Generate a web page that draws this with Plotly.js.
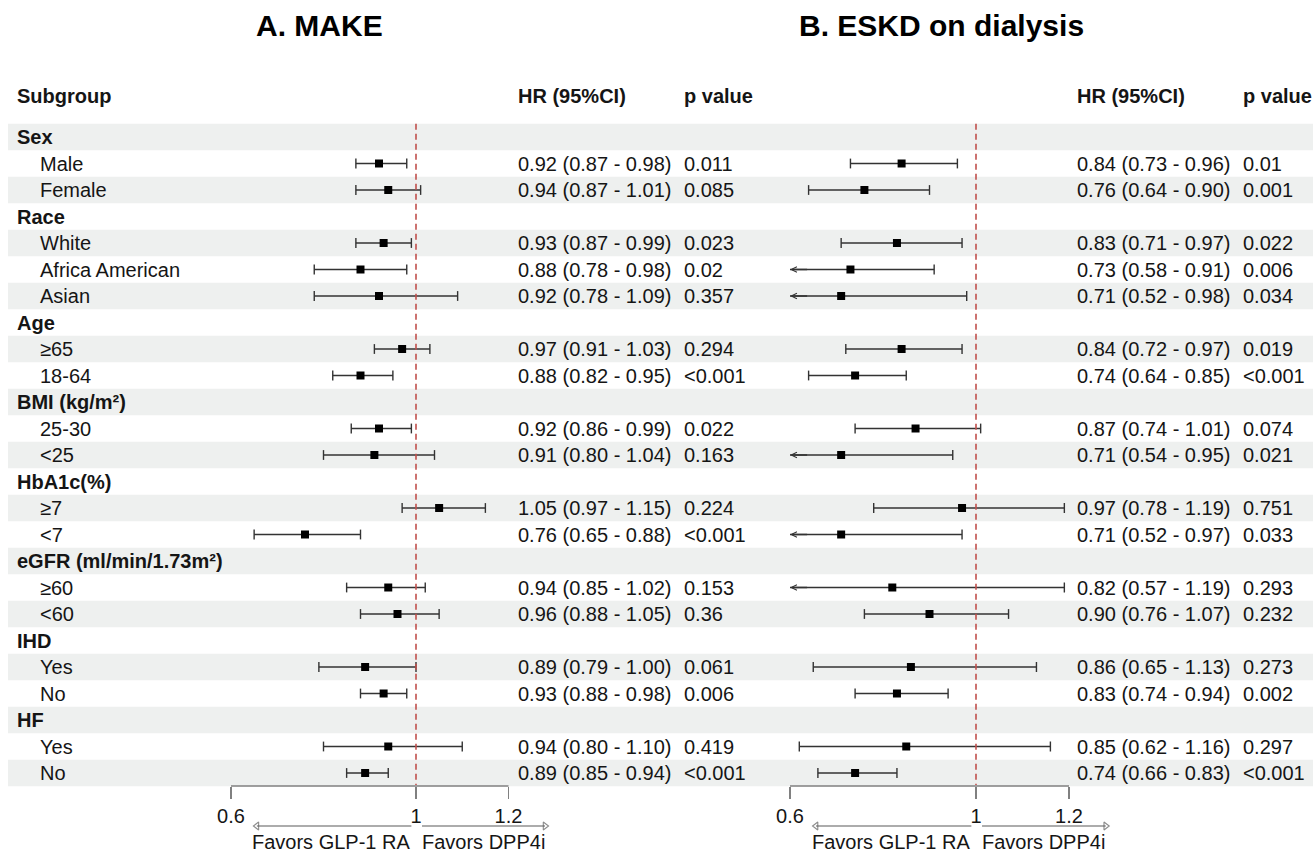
<!DOCTYPE html>
<html>
<head>
<meta charset="utf-8">
<script src="https://cdn.plot.ly/plotly-3.0.1.min.js"></script>
<style>html,body{margin:0;padding:0;background:#fff;}#chart{width:1313px;height:852px;}</style>
</head>
<body>
<div id="chart"></div>
<script>
// ---------- data ----------
const rowLabels = ['Sex','Male','Female','Race','White','Africa American','Asian','Age','≥65','18-64',
  'BMI (kg/m²)','25-30','<25','HbA1c(%)','≥7','<7','eGFR (ml/min/1.73m²)','≥60','<60','IHD','Yes','No','HF','Yes','No'];
const isHeader = [1,0,0,1,0,0,0,1,0,0,1,0,0,1,0,0,1,0,0,1,0,0,1,0,0];

// A. MAKE
const hrA = [null,0.92,0.94,null,0.93,0.88,0.92,null,0.97,0.88,null,0.92,0.91,null,1.05,0.76,null,0.94,0.96,null,0.89,0.93,null,0.94,0.89];
const loA = [null,0.87,0.87,null,0.87,0.78,0.78,null,0.91,0.82,null,0.86,0.80,null,0.97,0.65,null,0.85,0.88,null,0.79,0.88,null,0.80,0.85];
const hiA = [null,0.98,1.01,null,0.99,0.98,1.09,null,1.03,0.95,null,0.99,1.04,null,1.15,0.88,null,1.02,1.05,null,1.00,0.98,null,1.10,0.94];
const pA  = ['','0.011','0.085','','0.023','0.02','0.357','','0.294','<0.001','','0.022','0.163','','0.224','<0.001','','0.153','0.36','','0.061','0.006','','0.419','<0.001'];

// B. ESKD on dialysis
const hrB = [null,0.84,0.76,null,0.83,0.73,0.71,null,0.84,0.74,null,0.87,0.71,null,0.97,0.71,null,0.82,0.90,null,0.86,0.83,null,0.85,0.74];
const loB = [null,0.73,0.64,null,0.71,0.58,0.52,null,0.72,0.64,null,0.74,0.54,null,0.78,0.52,null,0.57,0.76,null,0.65,0.74,null,0.62,0.66];
const hiB = [null,0.96,0.90,null,0.97,0.91,0.98,null,0.97,0.85,null,1.01,0.95,null,1.19,0.97,null,1.19,1.07,null,1.13,0.94,null,1.16,0.83];
const pB  = ['','0.01','0.001','','0.022','0.006','0.034','','0.019','<0.001','','0.074','0.021','','0.751','0.033','','0.293','0.232','','0.273','0.002','','0.297','<0.001'];

const tickVals = [0.6, 1, 1.2];
const tickText = ['0.6', '1', '1.2'];
const axisMin = 0.6, axisMax = 1.2;
const titles = ['A. MAKE', 'B. ESKD on dialysis'];
const favorsText = ['Favors GLP-1 RA', 'Favors DPP4i'];

// ---------- styling / layout helpers ----------
const W = 1313, H = 852;
const FONT = 'Liberation Sans, Arial, sans-serif';
const TXT = '#151515';
const CI = '#333333';
const AX = '#808080';
const rowTop = 137, rowStep = 26.5;            // pixel center of first row, spacing
const pxToRow = p => (p - rowTop) / rowStep;
const px = x => x / W;

const traces = [];
const shapes = [];
const annotations = [];

// row bands
rowLabels.forEach((_, i) => {
  if (i % 2 === 0) {
    shapes.push({type:'rect', xref:'paper', yref:'y', x0:px(8), x1:1, y0:i-0.5, y1:i+0.5,
      fillcolor:'#eef0ef', line:{width:0}, layer:'below'});
  }
});

function panel(hr, lo, hi, pv, xa, cols, titleX) {
  const xref = xa === 'xaxis' ? 'x' : 'x2';
  const lx = [], ly = [], cx = [], cy = [], sx = [], sy = [];
  hr.forEach((h, i) => {
    if (h === null) return;
    const l = Math.max(lo[i], axisMin);
    lx.push(l, hi[i], null); ly.push(i, i, null);
    if (lo[i] >= axisMin) { cx.push(lo[i]); cy.push(i); }
    else {
      annotations.push({xref:xref, yref:'y', x:axisMin, y:i, axref:xref, ayref:'y', ax:axisMin+0.04, ay:i,
        text:'', showarrow:true, arrowhead:5, arrowsize:0.8, arrowwidth:1.4, arrowcolor:CI, standoff:0});
    }
    cx.push(hi[i]); cy.push(i);
    sx.push(h); sy.push(i);
  });
  traces.push({type:'scatter', mode:'lines', xaxis:xref, yaxis:'y', x:lx, y:ly,
    line:{color:CI, width:1.4}, hoverinfo:'skip', showlegend:false});
  traces.push({type:'scatter', mode:'markers', xaxis:xref, yaxis:'y', x:cx, y:cy,
    marker:{symbol:'line-ns', size:7, line:{color:CI, width:1.4}}, hoverinfo:'skip', showlegend:false});
  traces.push({type:'scatter', mode:'markers', xaxis:xref, yaxis:'y', x:sx, y:sy,
    marker:{symbol:'square', size:8, color:'#000'}, hoverinfo:'skip', showlegend:false});

  // favors arrows
  const fy = pxToRow(826);
  traces.push({type:'scatter', mode:'lines+markers', xaxis:xref, yaxis:'y', x:[0.99, 0.656], y:[fy, fy],
    line:{color:'#5a5a5a', width:1.1}, marker:{symbol:'triangle-left-open', size:[0,7], color:'#5a5a5a', line:{width:1.1, color:'#5a5a5a'}},
    hoverinfo:'skip', showlegend:false, cliponaxis:false});
  traces.push({type:'scatter', mode:'lines+markers', xaxis:xref, yaxis:'y', x:[1.013, 1.279], y:[fy, fy],
    line:{color:'#5a5a5a', width:1.1}, marker:{symbol:'triangle-right-open', size:[0,7], color:'#5a5a5a', line:{width:1.1, color:'#5a5a5a'}},
    hoverinfo:'skip', showlegend:false, cliponaxis:false});
  const ty = pxToRow(842);
  annotations.push({xref:xref, yref:'y', x:0.992, y:ty, xanchor:'right', yanchor:'middle', showarrow:false,
    text:favorsText[0], font:{family:FONT, size:20, color:TXT}});
  annotations.push({xref:xref, yref:'y', x:1.008, y:ty, xanchor:'left', yanchor:'middle', showarrow:false,
    text:favorsText[1], font:{family:FONT, size:20, color:TXT}});

  // reference line at 1
  shapes.push({type:'line', xref:xref, yref:'y', x0:1, x1:1, y0:-0.5, y1:24.45,
    line:{color:'#c0504d', width:1.6, dash:'6px,4px'}});
  // axis line
  shapes.push({type:'line', xref:xref, yref:'paper', x0:axisMin, x1:axisMax, y0:1-786/H, y1:1-786/H,
    line:{color:AX, width:1.3}});

  // table text
  const hy = pxToRow(96);
  annotations.push({xref:'paper', yref:'y', x:px(cols[0]-2), y:hy, xanchor:'left', yanchor:'middle', showarrow:false,
    text:'<b>HR (95%CI)</b>', font:{family:FONT, size:20, color:TXT}});
  annotations.push({xref:'paper', yref:'y', x:px(cols[1]-2), y:hy, xanchor:'left', yanchor:'middle', showarrow:false,
    text:'<b>p value</b>', font:{family:FONT, size:20, color:TXT}});
  hr.forEach((h, i) => {
    if (h === null) return;
    annotations.push({xref:'paper', yref:'y', x:px(cols[0]-2), y:i, xanchor:'left', yanchor:'middle', showarrow:false,
      text:h.toFixed(2)+' ('+lo[i].toFixed(2)+' - '+hi[i].toFixed(2)+')', font:{family:FONT, size:20, color:TXT}});
    annotations.push({xref:'paper', yref:'y', x:px(cols[1]-2), y:i, xanchor:'left', yanchor:'middle', showarrow:false,
      text:pv[i], font:{family:FONT, size:20, color:TXT}});
  });
  annotations.push({xref:'paper', yref:'paper', x:px(titleX), y:1-25/H, xanchor:'center', yanchor:'middle', showarrow:false,
    text:'<b>'+titles[xa === 'xaxis' ? 0 : 1]+'</b>', font:{family:FONT, size:30, color:'#000'}});
}

panel(hrA, loA, hiA, pA, 'xaxis', [518, 684], 319.5);
panel(hrB, loB, hiB, pB, 'xaxis2', [1077, 1243], 941);

// subgroup labels
annotations.push({xref:'paper', yref:'y', x:px(15), y:pxToRow(96), xanchor:'left', yanchor:'middle', showarrow:false,
  text:'<b>Subgroup</b>', font:{family:FONT, size:20, color:TXT}});
rowLabels.forEach((lab, i) => {
  annotations.push({xref:'paper', yref:'y', x:px(isHeader[i] ? 15 : 38), y:i, xanchor:'left', yanchor:'middle', showarrow:false,
    text:isHeader[i] ? '<b>'+lab+'</b>' : lab, font:{family:FONT, size:20, color:TXT}});
});

const xCommon = {range:[0.5,1.3], anchor:'free', position:1-786/H, showgrid:false, zeroline:false, showline:false,
  tickmode:'array', tickvals:tickVals, ticktext:tickText, ticks:'outside', ticklen:12, tickwidth:1.3, tickcolor:AX,
  tickfont:{family:FONT, size:20, color:TXT}, fixedrange:true};

const layout = {
  width:W, height:H, margin:{l:0, r:0, t:0, b:0}, paper_bgcolor:'#fff', plot_bgcolor:'rgba(0,0,0,0)',
  showlegend:false,
  xaxis:Object.assign({}, xCommon, {domain:[184.75/W, 554.75/W]}),
  xaxis2:Object.assign({}, xCommon, {domain:[743.5/W, 1115.5/W]}),
  yaxis:{range:[pxToRow(H), pxToRow(0)], visible:false, showgrid:false, zeroline:false, fixedrange:true},
  shapes:shapes, annotations:annotations
};

Plotly.newPlot('chart', traces, layout, {displayModeBar:false, staticPlot:true});
</script>
</body>
</html>
